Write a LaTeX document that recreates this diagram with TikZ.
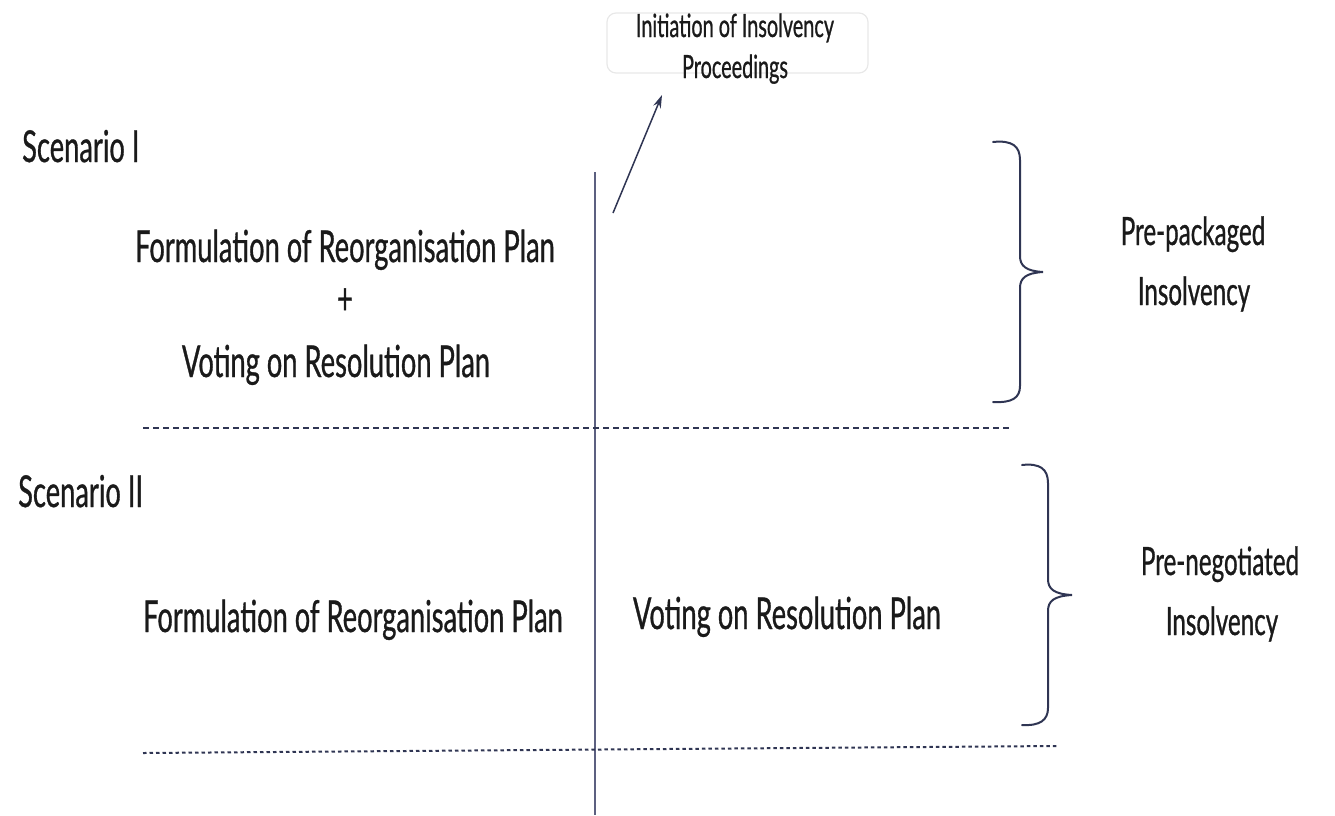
\documentclass[tikz,border=0pt]{standalone}
\usepackage{fontspec}
\setmainfont{Lato}[FakeStretch=0.62, FakeBold=0.7]
\usetikzlibrary{arrows.meta}
\definecolor{navy}{HTML}{2F3553}
\definecolor{vline}{HTML}{5C6080}
\definecolor{txt}{HTML}{1A1A1A}
\begin{document}
\begin{tikzpicture}[x=1pt,y=-1pt,
  big/.style={inner sep=0pt, text=txt, anchor=base, font=\fontsize{44}{52}\selectfont},
  side/.style={inner sep=0pt, text=txt, anchor=base, font=\fontsize{39}{48}\selectfont},
  small/.style={inner sep=0pt, text=txt, anchor=base, font=\fontsize{32}{38}\selectfont},
  sep1/.style={navy, line width=1.5pt, dash pattern=on 6pt off 4pt},
  sep2/.style={navy, line width=2pt, dash pattern=on 3.5pt off 3pt},
  brace/.style={navy, line width=2pt, line cap=round},
  arr/.style={navy, line width=1.5pt, -{Stealth[length=13pt,width=8pt]}},
  ibox/.style={draw=black!9, line width=1.2pt, rounded corners=9pt, minimum width=261pt, minimum height=60pt, inner sep=0pt}
]
\useasboundingbox (0,0) rectangle (1335,815);

% top label
\node[ibox] (initbox) at (737.5,43) {};
\node[small] (init1) at (735,37) {Initiation of Insolvency};
\node[small] (init2) at (735,78) {Proceedings};

% vertical line
\coordinate (vtop) at (595,172);
\coordinate (vbot) at (595,815);
\draw[vline, line width=1.6pt] (vtop) -- (vbot);

% arrow
\coordinate (afoot) at (613,213);
\coordinate (atip) at (662,95);
\draw[arr] (afoot) -- (atip);

% scenario labels
\node[big, anchor=base west] (sc1) at (22,162) {Scenario I};
\node[big, anchor=base west] (sc2) at (18,507) {Scenario II};

% scenario I texts
\node[big] (f1) at (345,262) {Formulation of Reorganisation Plan};
\node[big] (plus) at (345,314) {+};
\node[big] (v1) at (336,377) {Voting on Resolution Plan};

% scenario II texts
\node[big] (f2) at (353,632) {Formulation of Reorganisation Plan};
\node[big] (v2) at (787,629) {Voting on Resolution Plan};

% separators
\coordinate (s1a) at (143,428);
\coordinate (s1b) at (1010,428);
\draw[sep1] (s1a) -- (s1b);
\coordinate (s2a) at (143,753);
\coordinate (s2b) at (1057,746);
\draw[sep2] (s2a) -- (s2b);

% brace 1
\draw[brace] (993,142) .. controls (1012,140) and (1020,146) .. (1020,160)
  -- (1020,256) .. controls (1020,266) and (1026,271) .. (1043,272)
  .. controls (1026,273) and (1020,278) .. (1020,288)
  -- (1020,386) .. controls (1020,398) and (1012,403) .. (993,402);
% brace 2
\draw[brace] (1022,465) .. controls (1040,463) and (1048,469) .. (1048,483)
  -- (1048,579) .. controls (1048,589) and (1054,594) .. (1072,595)
  .. controls (1054,596) and (1048,601) .. (1048,611)
  -- (1048,708) .. controls (1048,720) and (1040,726) .. (1022,725);

% right labels
\node[side] (pp1) at (1193,245) {Pre-packaged};
\node[side] (pp2) at (1194,305) {Insolvency};
\node[side] (pn1) at (1220,575) {Pre-negotiated};
\node[side] (pn2) at (1222,635) {Insolvency};
\end{tikzpicture}
\end{document}
